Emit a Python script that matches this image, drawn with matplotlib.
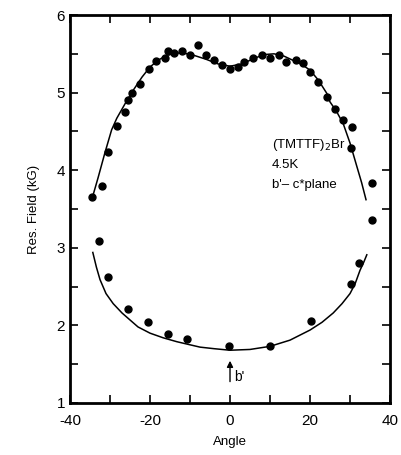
import numpy as np
import matplotlib.pyplot as plt
from matplotlib.ticker import MultipleLocator, FuncFormatter

plt.rcParams['font.family'] = ['Liberation Sans', 'DejaVu Sans']
plt.rcParams['axes.unicode_minus'] = False

# measured points, upper branch
up_ang = [-34.4, -32.1, -30.6, -28.2, -26.2, -25.4, -24.5, -22.5, -20.2, -18.5, -16.3, -15.4,
          -14.0, -12.0, -10.0, -8.1, -6.0, -4.0, -2.0, 0.0, 1.9, 3.6, 5.8, 7.9, 10.0, 12.3,
          14.0, 16.5, 18.3, 20.0, 22.1, 24.2, 26.2, 28.3, 30.4, 30.2, 35.4]
up_fld = [3.65, 3.80, 4.24, 4.57, 4.75, 4.90, 4.99, 5.11, 5.30, 5.41, 5.45, 5.54,
          5.51, 5.54, 5.48, 5.61, 5.49, 5.42, 5.36, 5.31, 5.33, 5.39, 5.44, 5.48, 5.45, 5.49,
          5.40, 5.42, 5.38, 5.27, 5.14, 4.94, 4.79, 4.65, 4.56, 4.28, 3.84]

# measured points, lower branch
lo_ang = [-32.7, -30.4, -25.6, -20.4, -15.4, -10.7, -0.2, 10.0, 20.2, 30.3, 32.2, 35.4]
lo_fld = [3.09, 2.63, 2.21, 2.04, 1.89, 1.82, 1.74, 1.74, 2.06, 2.53, 2.80, 3.36]

# fitted curves
fit_up_ang = [-34.4, -33.0, -31.3, -29.6, -28.3, -26.2, -24.2, -22.0, -20.0, -17.9, -15.8,
              -13.7, -11.7, -9.0, -6.0, -3.0, 0.0, 3.0, 6.0, 8.5, 11.0, 13.5, 16.0, 18.0,
              20.0, 22.1, 24.2, 25.0, 26.6, 28.3, 30.0, 31.7, 32.9, 34.0]
fit_up_fld = [3.65, 3.90, 4.22, 4.52, 4.67, 4.86, 5.03, 5.20, 5.33, 5.42, 5.48,
              5.51, 5.51, 5.48, 5.43, 5.37, 5.34, 5.37, 5.44, 5.49, 5.50, 5.47, 5.41, 5.36,
              5.29, 5.16, 4.99, 4.88, 4.76, 4.60, 4.35, 4.05, 3.84, 3.62]
fit_lo_ang = [-34.3, -33.4, -32.5, -31.0, -29.2, -27.0, -25.0, -23.0, -20.0, -16.7, -13.3,
              -10.0, -7.5, -4.0, 0.0, 5.0, 10.0, 15.0, 20.0, 23.0, 25.8, 28.0, 30.0, 31.3,
              32.5, 33.4, 34.2]
fit_lo_fld = [2.94, 2.75, 2.59, 2.41, 2.28, 2.16, 2.07, 1.98, 1.90, 1.84, 1.79,
              1.75, 1.72, 1.70, 1.68, 1.69, 1.73, 1.81, 1.94, 2.04, 2.16, 2.28, 2.41, 2.54,
              2.71, 2.81, 2.91]

fig = plt.figure(figsize=(4.01, 4.55), dpi=100)
ax = fig.add_axes([0.1746, 0.1143, 0.798, 0.8527])

ax.plot(fit_up_ang, fit_up_fld, 'k-', lw=1.1)
ax.plot(fit_lo_ang, fit_lo_fld, 'k-', lw=1.1)
ax.plot(up_ang, up_fld, 'ko', ms=5)
ax.plot(lo_ang, lo_fld, 'ko', ms=5)

ax.set_xlim(-40, 40)
ax.set_ylim(1, 6)
ax.xaxis.set_major_locator(MultipleLocator(10))
ax.xaxis.set_major_formatter(FuncFormatter(lambda v, p: '%d' % v if round(v) % 20 == 0 else ''))
ax.yaxis.set_major_locator(MultipleLocator(0.5))
ax.yaxis.set_major_formatter(FuncFormatter(lambda v, p: '%d' % v if abs(v - round(v)) < 1e-6 else ''))
ax.tick_params(direction='in', length=6, width=1.2, top=True, right=True, labelsize=11)
ax.tick_params(axis='x', pad=8)
for s in ax.spines.values():
    s.set_linewidth(2)

ax.set_xlabel('Angle', fontsize=9.5, labelpad=6)
ax.set_ylabel('Res. Field (kG)', fontsize=9.5, labelpad=12)

ax.text(10.4, 4.33, r'(TMTTF)$_2$Br', fontsize=9.5, va='center')
ax.text(10.4, 4.07, '4.5K', fontsize=9.5, va='center')
ax.text(10.4, 3.81, "b'\u2013 c*plane", fontsize=9.5, va='center')

ax.annotate('', xy=(0, 1.58), xytext=(0, 1.24),
            arrowprops=dict(arrowstyle='-|>', color='k', lw=1, mutation_scale=9))
ax.text(1.1, 1.33, "b'", fontsize=10, va='center')

fig.savefig('out.png', dpi=100)
